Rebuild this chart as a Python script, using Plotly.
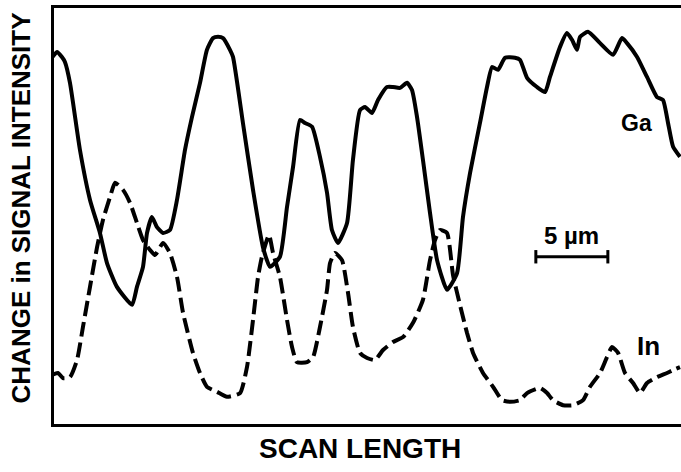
import plotly.graph_objects as go

# Scan position along the line profile (micrometres) and relative signal (a.u.)
ga_x = [0.0, 0.35, 0.69, 0.90, 1.25, 1.94, 2.64, 3.33, 3.82, 4.51, 5.56, 5.90, 6.32, 6.60,
        6.94, 7.29, 7.71, 8.19, 8.68, 9.24, 9.72, 10.28, 10.76, 11.18, 11.53, 11.88, 12.36,
        12.57, 13.26, 13.96, 14.65, 15.14, 15.83, 16.32, 16.74, 17.22, 17.57, 18.06, 18.61,
        19.10, 19.44, 19.86, 20.49, 20.90, 21.39, 21.74, 22.22, 22.64, 23.26, 23.68, 24.17,
        24.65, 25.00, 25.35, 25.76, 26.25, 26.74, 27.43, 28.13, 28.54, 29.03, 29.72, 30.21,
        30.56, 30.97, 31.46, 32.15, 32.50, 32.99, 33.68, 34.24, 34.58, 35.28, 35.76, 36.11,
        36.46, 36.67, 37.22, 38.06, 38.96, 39.58, 39.93, 40.63, 41.32, 42.01, 42.43, 42.78,
        43.13, 43.61]
ga_y = [87.6, 89.0, 87.8, 86.6, 81.6, 65.6, 53.6, 45.7, 38.5, 32.8, 28.5, 32.8, 37.6, 45.7,
        49.5, 47.1, 45.7, 46.4, 53.6, 65.6, 73.4, 81.6, 89.5, 92.3, 92.6, 92.3, 89.5,
        87.8, 72.0, 56.0, 42.3, 37.6, 40.0, 51.9, 61.5, 72.7, 72.0, 71.1, 63.9,
        55.3, 46.4, 43.3, 48.1, 63.2, 75.1, 75.8, 74.4, 77.5, 80.6, 80.6, 80.4,
        81.6, 79.9, 73.4, 63.2, 50.5, 39.2, 32.1, 36.1, 49.5, 60.0, 72.0, 80.6,
        85.4, 84.7, 87.6, 87.6, 87.1, 82.8, 80.6, 79.4, 83.0, 90.2, 93.5, 91.9,
        89.5, 92.6, 93.8, 91.1, 88.3, 92.3, 91.1, 87.8, 83.0, 78.2, 77.5, 72.0,
        66.3, 63.9]

in_x = [0.0, 0.42, 0.76, 1.25, 1.74, 2.15, 2.64, 3.13, 3.54, 4.03, 4.38, 4.93, 5.42, 5.90,
        6.32, 6.81, 7.15, 7.71, 8.19, 8.68, 9.10, 9.79, 10.28, 10.76, 11.46, 12.15, 13.06,
        13.54, 13.96, 14.31, 14.58, 15.07, 15.35, 15.83, 16.32, 16.67, 17.01, 17.71, 18.13,
        18.61, 19.10, 19.31, 19.65, 20.14, 20.56, 20.90, 21.39, 21.88, 22.43, 22.99, 23.68,
        24.38, 25.07, 25.76, 26.25, 26.60, 26.94, 27.43, 27.85, 28.33, 28.82, 29.24, 29.93,
        30.63, 31.25, 31.81, 32.50, 32.99, 33.89, 34.38, 34.79, 35.49, 36.18, 36.88, 37.36,
        38.06, 38.54, 38.89, 39.31, 39.79, 40.35, 40.83, 41.32, 42.01, 42.71, 43.13, 43.61]
in_y = [11.7, 12.2, 11.0, 11.2, 15.3, 23.2, 32.8, 42.3, 48.8, 54.3, 57.7, 56.0, 52.9, 48.1,
        44.0, 41.6, 40.4, 43.3, 40.9, 35.2, 26.6, 17.0, 12.2, 8.9, 7.7, 6.5, 7.4,
        13.6, 24.9, 35.2, 40.0, 45.2, 40.9, 35.2, 24.9, 18.4, 14.8, 14.8, 16.0,
        23.2, 32.1, 38.5, 40.9, 39.2, 31.3, 23.2, 17.0, 15.8, 15.3, 17.7, 19.6,
        20.8, 24.2, 29.7, 39.2, 44.0, 46.4, 45.7, 35.6, 28.5, 21.8, 17.0, 12.2,
        8.9, 5.7, 5.3, 5.7, 7.4, 8.6, 7.4, 5.7, 4.5, 4.5, 5.7, 8.9,
        12.2, 16.0, 18.4, 17.0, 12.2, 9.8, 7.4, 9.8, 11.2, 12.2, 12.9, 13.6]

# 5 micrometre scale bar
bar_start = 33.6
bar_length = 5.0
bar_level = 40.0

FONT = "Liberation Sans, Arial, sans-serif"

fig = go.Figure()
fig.add_trace(go.Scatter(x=ga_x, y=ga_y, mode="lines", name="Ga",
                         line=dict(color="black", width=4, shape="spline", smoothing=0.5)))
fig.add_trace(go.Scatter(x=in_x, y=in_y, mode="lines", name="In",
                         line=dict(color="black", width=4, dash="15px,6px",
                                   shape="spline", smoothing=0.5)))

bar_end = bar_start + bar_length
fig.add_shape(type="line", x0=bar_start, x1=bar_end, y0=bar_level, y1=bar_level,
              line=dict(color="black", width=3))
for xe in (bar_start, bar_end):
    fig.add_shape(type="line", x0=xe, x1=xe, y0=bar_level - 1.6, y1=bar_level + 1.6,
                  line=dict(color="black", width=3))

fig.add_annotation(x=bar_start + bar_length / 2, y=45.0, text="<b>5 µm</b>", showarrow=False,
                   font=dict(family=FONT, size=24, color="black"))
fig.add_annotation(x=40.6, y=71.9, text="<b>Ga</b>", showarrow=False,
                   font=dict(family=FONT, size=23, color="black"))
fig.add_annotation(x=41.4, y=18.7, text="<b>In</b>", showarrow=False,
                   font=dict(family=FONT, size=26, color="black"))

# Axis titles
fig.add_annotation(xref="paper", yref="paper", x=-0.053, y=0.52,
                   xanchor="center", yanchor="middle",
                   text="<b>CHANGE in SIGNAL INTENSITY</b>", textangle=-90, showarrow=False,
                   font=dict(family=FONT, size=26, color="black"))
fig.add_annotation(xref="paper", yref="paper", x=0.488, y=-0.06,
                   xanchor="center", yanchor="middle",
                   text="<b>SCAN LENGTH</b>", showarrow=False,
                   font=dict(family=FONT, size=28, color="black"))

fig.update_layout(
    width=681, height=472,
    margin=dict(l=54, r=0, t=8, b=48),
    paper_bgcolor="white", plot_bgcolor="white",
    showlegend=False,
    xaxis=dict(range=[0.14, 43.68], showline=True, mirror=True, linecolor="black",
               linewidth=3, showgrid=False, zeroline=False, showticklabels=False, ticks=""),
    yaxis=dict(range=[0, 99.5], showline=True, mirror=False, linecolor="black",
               linewidth=3, showgrid=False, zeroline=False, showticklabels=False, ticks=""),
)

fig.write_html("out.html")
